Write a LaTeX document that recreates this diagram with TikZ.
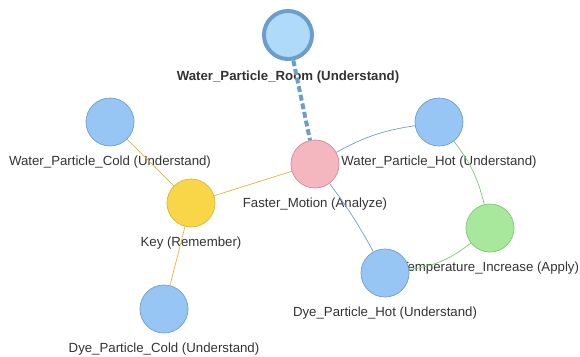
\documentclass[tikz,border=0pt]{standalone}
\usepackage{fontspec}
\setmainfont{Liberation Sans}
\definecolor{ufill}{HTML}{97C6F5}
\definecolor{uline}{HTML}{6C9FD2}
\definecolor{roomfill}{HTML}{B0DAF9}
\definecolor{roomline}{HTML}{6A9ECC}
\definecolor{afill}{HTML}{F4B7C0}
\definecolor{aline}{HTML}{D38A95}
\definecolor{rfill}{HTML}{F8D648}
\definecolor{rline}{HTML}{D8B83E}
\definecolor{pfill}{HTML}{A8E89C}
\definecolor{pline}{HTML}{7CC874}
\definecolor{labeltext}{HTML}{333333}

\begin{document}
\begin{tikzpicture}[x=0.03cm, y=-0.03cm,
  concept/.style={draw, circle, minimum size=1.44cm, inner sep=0pt, line width=0.6pt},
  understand/.style={concept, fill=ufill, draw=uline},
  every label/.style={font=\fontsize{11.3}{13}\selectfont, text=labeltext, inner sep=0pt},
  label distance=0.28cm]
\useasboundingbox (0,0) rectangle (580,356);
\node[understand, line width=3.4pt, fill=roomfill, draw=roomline, label={[font=\fontsize{11.3}{13}\selectfont\bfseries]below:Water\_Particle\_Room (Understand)}] (WPRoom) at (288,35) {};
\node[understand, label=below:{Water\_Particle\_Cold (Understand)}] (WPCold) at (110,122) {};
\node[concept, fill=rfill, draw=rline, label=below:{Key (Remember)}] (Key) at (191,203) {};
\node[concept, fill=afill, draw=aline, label=below:{Faster\_Motion (Analyze)}] (Faster) at (315,164) {};
\node[understand, label=below:{Water\_Particle\_Hot (Understand)}] (WPHot) at (439,122) {};
\node[concept, fill=pfill, draw=pline, label=below:{Temperature\_Increase (Apply)}] (TempInc) at (490,228) {};
\node[understand, label=below:{Dye\_Particle\_Hot (Understand)}] (DPHot) at (385,273) {};
\node[understand, label=below:{Dye\_Particle\_Cold (Understand)}] (DPCold) at (164,309) {};
\draw[rline, line width=0.6pt] (WPCold) -- (Key);
\draw[rline, line width=0.6pt] (Key) -- (Faster);
\draw[rline, line width=0.6pt] (Key) -- (DPCold);
\draw[roomline, line width=3.4pt, dash pattern=on 5pt off 2.5pt] (WPRoom) -- (Faster);
\draw[uline, line width=0.6pt] (Faster) to[bend left=10] (WPHot);
\draw[uline, line width=0.6pt] (Faster) to[bend left=4] (DPHot);
\draw[pline, line width=0.6pt] (WPHot) to[bend left=12] (TempInc);
\draw[pline, line width=0.6pt] (TempInc) to[bend left=15] (DPHot);
\end{tikzpicture}
\end{document}
